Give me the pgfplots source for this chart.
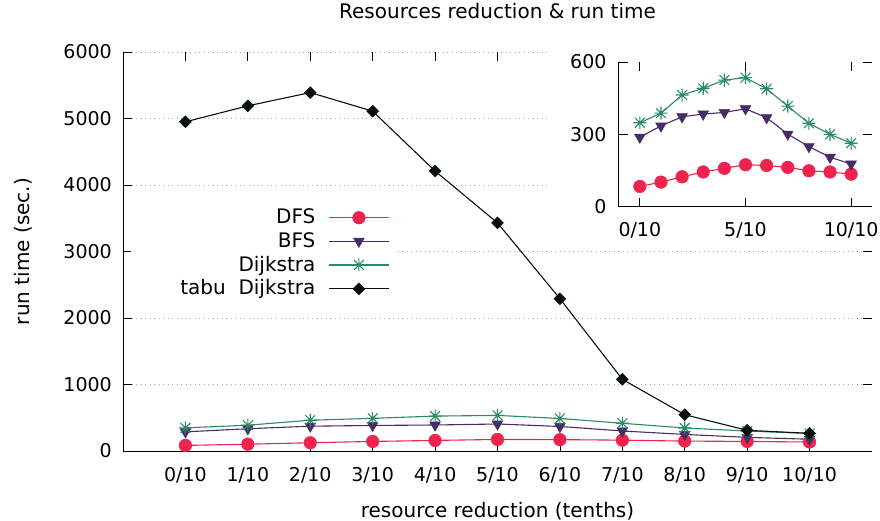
\documentclass[border=0pt]{standalone}
\usepackage{fontspec}
\setmainfont{DejaVu Sans}
\usepackage{pgfplots}
\pgfplotsset{compat=1.18}

\definecolor{cDFS}{RGB}{238,36,78}
\definecolor{cBFS}{RGB}{72,44,104}
\definecolor{cDij}{RGB}{42,140,100}
\definecolor{cTabu}{RGB}{5,16,8}

\newcommand\labelfont{\fontsize{20bp}{24bp}\selectfont}
\newcommand\tickfont{\fontsize{19bp}{23bp}\selectfont}

% gnuplot-style star: a plus and a cross on top of each other
\pgfdeclareplotmark{gpstar}{%
  \pgfpathmoveto{\pgfqpoint{-\pgfplotmarksize}{0pt}}%
  \pgfpathlineto{\pgfqpoint{\pgfplotmarksize}{0pt}}%
  \pgfpathmoveto{\pgfqpoint{0pt}{-\pgfplotmarksize}}%
  \pgfpathlineto{\pgfqpoint{0pt}{\pgfplotmarksize}}%
  \pgfpathmoveto{\pgfqpoint{-.75\pgfplotmarksize}{-.75\pgfplotmarksize}}%
  \pgfpathlineto{\pgfqpoint{.75\pgfplotmarksize}{.75\pgfplotmarksize}}%
  \pgfpathmoveto{\pgfqpoint{-.75\pgfplotmarksize}{.75\pgfplotmarksize}}%
  \pgfpathlineto{\pgfqpoint{.75\pgfplotmarksize}{-.75\pgfplotmarksize}}%
  \pgfusepathqstroke}

\pgfplotsset{
  dfs/.style={color=cDFS, line width=1.1bp, mark=*, mark size=6.3bp,
    mark options={fill=cDFS, draw=cDFS, line width=0.5bp}},
  bfs/.style={color=cBFS, line width=1.1bp, mark=triangle*, mark size=6.2bp,
    mark options={fill=cBFS, draw=cBFS, rotate=180, line width=0.5bp}},
  dij/.style={color=cDij, line width=1.1bp, mark=gpstar, mark size=6.5bp,
    mark options={draw=cDij, line width=1.1bp}},
  tabu/.style={color=cTabu, line width=1.1bp, mark=square*, mark size=4.2bp,
    mark options={fill=cTabu, draw=cTabu, rotate=45, line width=0.5bp}},
  gpaxis/.style={
    scale only axis,
    axis line style={draw=none},
    tick align=inside,
    major tick length=9bp,
    tick style={black, line width=0.8bp},
    tick label style={font=\tickfont},
    clip=false,
    /pgf/number format/.cd, 1000 sep={}, assume math mode=true,
  },
}

% run times in seconds, x = tenths of resources removed
\pgfplotstableread{
x  dfs  bfs  dij  tabu
0   84  288  348  4950
1  102  335  388  5190
2  124  373  463  5390
3  144  384  491  5110
4  159  391  525  4210
5  174  406  535  3430
6  171  369  489  2290
7  163  301  417  1078
8  149  249  346  546
9  144  205  300  311
10 135  177  263  266
}\runtimes

\begin{document}
\labelfont
\begin{tikzpicture}[x=1bp,y=1bp]
\path[use as bounding box] (-123bp,-70bp) rectangle (757bp,451bp);

\begin{axis}[gpaxis,
  at={(0,0)}, anchor=south west,
  width=749bp, height=399bp,
  xmin=-1, xmax=11, ymin=0, ymax=6000,
  xtick={0,...,10},
  xticklabels={0/10,1/10,2/10,3/10,4/10,5/10,6/10,7/10,8/10,9/10,10/10},
  ytick={0,1000,...,6000},
  ymajorgrids,
  grid style={gray!70, line width=0.7bp, dash pattern=on 1bp off 3.5bp},
  xticklabel style={anchor=base, inner sep=0pt, yshift=-30bp},
  yticklabel style={anchor=east, inner sep=0pt, xshift=-11bp},
  title={Resources reduction \& run time},
  title style={at={(rel axis cs:0.5,1)}, anchor=base, inner sep=0pt, yshift=28bp, font=\labelfont},
  xlabel={resource reduction (tenths)},
  xlabel style={at={(rel axis cs:0.5,0)}, anchor=base, inner sep=0pt, yshift=-66bp, font=\labelfont},
  ylabel={run time (sec.)},
  ylabel style={at={(rel axis cs:-0.1248,0.5)}, anchor=base, inner sep=0pt, font=\labelfont},
  legend plot pos=right,
  legend cell align=right,
  legend style={at={(rel axis cs:0.3667,0.6225)}, anchor=north east,
    fill=white, draw=none, inner xsep=8bp, inner ysep=4bp, font=\labelfont,
    row sep=1.7bp, /tikz/every odd column/.append style={column sep=11bp}},
  legend image code/.code={%
    \draw[mark repeat=2, mark phase=2] plot coordinates {(0bp,0bp) (30bp,0bp) (60bp,0bp)};},
]
\draw[black, line width=0.8bp] (rel axis cs:0,1) -- (rel axis cs:0,0) -- (rel axis cs:1,0);
% the key box reaches left to the y axis
\fill[white] (rel axis cs:0.011,0.46) rectangle (rel axis cs:0.08,0.54);
\addplot[dfs] table[x=x, y=dfs] {\runtimes};
\addlegendentry{DFS}
\addplot[bfs] table[x=x, y=bfs] {\runtimes};
\addlegendentry{BFS}
\addplot[dij] table[x=x, y=dij] {\runtimes};
\addlegendentry{Dijkstra}
\addplot[tabu] table[x=x, y=tabu] {\runtimes};
\addlegendentry{tabu\ \ Dijkstra}
\end{axis}

% white ground under the inset
\fill[white] (424bp,205bp) rectangle (757bp,412bp);

\begin{axis}[gpaxis,
  at={(495.7bp,244.3bp)}, anchor=south west,
  width=253.6bp, height=144.7bp,
  xmin=-1, xmax=11, ymin=0, ymax=600,
  xtick={0,5,10},
  xticklabels={0/10,5/10,10/10},
  ytick={0,300,600},
  xticklabel style={anchor=base, inner sep=0pt, yshift=-30bp},
  yticklabel style={anchor=east, inner sep=0pt, xshift=-12bp},
]
\draw[black, line width=0.8bp] (rel axis cs:0,1) -- (rel axis cs:0,0) -- (rel axis cs:1,0);
\addplot[dfs] table[x=x, y=dfs] {\runtimes};
\addplot[bfs] table[x=x, y=bfs] {\runtimes};
\addplot[dij] table[x=x, y=dij] {\runtimes};
\end{axis}
\end{tikzpicture}
\end{document}
